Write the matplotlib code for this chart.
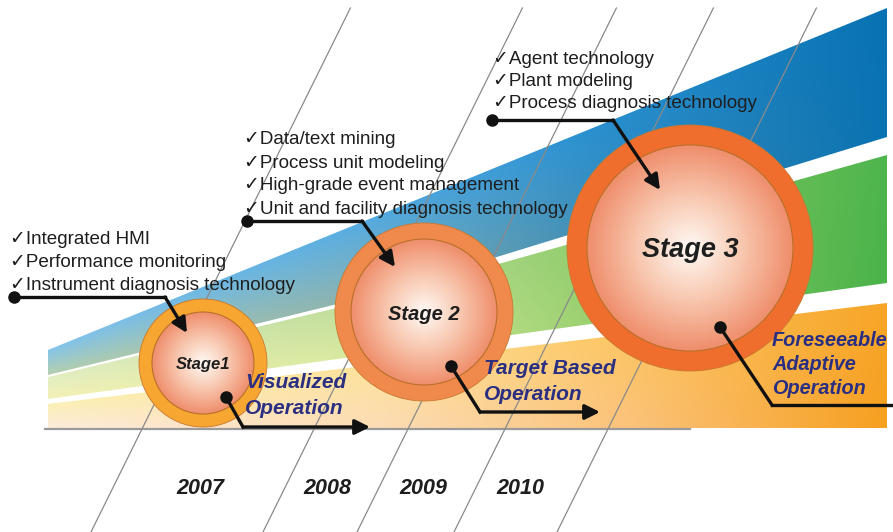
import numpy as np
import matplotlib
matplotlib.use('Agg')
import matplotlib.pyplot as plt
from matplotlib.colors import LinearSegmentedColormap
from matplotlib.patches import Polygon, Circle

plt.rcParams['font.family'] = ['Liberation Sans', 'DejaVu Sans']

# Contenido del gráfico
stages = ['Stage1', 'Stage 2', 'Stage 3']
years = ['2007', '2008', '2009', '2010']
features = [
    ['Integrated HMI', 'Performance monitoring', 'Instrument diagnosis technology'],
    ['Data/text mining', 'Process unit modeling', 'High-grade event management',
     'Unit and facility diagnosis technology'],
    ['Agent technology', 'Plant modeling', 'Process diagnosis technology'],
]
outcomes = [
    ['Visualized', 'Operation'],
    ['Target Based', 'Operation'],
    ['Foreseeable', 'Adaptive', 'Operation'],
]

# Disposición (coordenadas en píxeles de la imagen)
centers = [(203, 363), (424, 312), (690, 248)]
r_outer = [64, 89, 123]
r_inner = [51, 73, 103]
ring_colors = ['#f7a631', '#f08a4c', '#ef6e2e']
stage_fs = [12, 14.5, 19.5]
feat_pos = [(10, 240, 22.5), (244, 140, 23), (493, 59, 22.5)]
top_ptr = [[(14, 297), (165, 297), (187, 333)],
           [(247, 221), (362, 221), (395, 267)],
           [(492, 120), (613, 120), (660, 190)]]
bot_ptr = [[(226, 397), (243, 427), (370, 427)],
           [(451, 366), (480, 412), (600, 412)],
           [(720, 327), (772, 405), (895, 405)]]
out_pos = [(245, 383, 26), (484, 369, 26), (772, 340, 24.5)]
out_fs = [15, 15, 14.3]
year_x = [200, 327, 423, 520]
diag_bottom = [91, 263, 357, 454, 557]

W, H = 893, 532
X0, X1 = 48, 887
fig = plt.figure(figsize=(W / 100, H / 100), dpi=100)
ax = fig.add_axes([0, 0, 1, 1])
ax.axis('off')

gx, gy = np.meshgrid(np.linspace(X0, X1, 700), np.linspace(0, 440, 600))
u = (gx - X0) / (X1 - X0)


def banda(top, bot, top_stops, bot_stops, z):
    ty = np.interp(gx, [p[0] for p in top], [p[1] for p in top])
    by = np.interp(gx, [p[0] for p in bot], [p[1] for p in bot])
    t = np.clip((gy - ty) / (by - ty), 0, 1)[..., None]
    ct = LinearSegmentedColormap.from_list('t', top_stops)(u)
    cb = LinearSegmentedColormap.from_list('b', bot_stops)(u)
    img = ct * (1 - t) + cb * t
    im = ax.imshow(img, extent=(X0, X1, 440, 0), origin='upper', aspect='auto',
                   zorder=z, interpolation='bilinear')
    p = Polygon(list(top) + list(bot)[::-1], closed=True, facecolor='none', edgecolor='none')
    ax.add_patch(p)
    im.set_clip_path(p)


# banda azul
banda([(X0, 350), (X1, 8)], [(X0, 375), (370, 296), (X1, 137)],
      [(0, '#84c4ea'), (0.35, '#5aaee2'), (0.65, '#2a90d0'), (1, '#0872b2')],
      [(0, '#b4cfb0'), (0.35, '#8fb4ae'), (0.65, '#3f8eb8'), (1, '#0a73b2')], 1)
# banda verde
banda([(X0, 377), (370, 300), (X1, 155)], [(X0, 399), (620, 320), (X1, 283)],
      [(0, '#e2eec4'), (0.4, '#bcdc96'), (0.7, '#86c964'), (1, '#4fb54d')],
      [(0, '#f3f1b6'), (0.4, '#d6e99e'), (0.7, '#8fcc66'), (1, '#4ab34a')], 1)
# banda naranja
banda([(X0, 404), (X1, 303)], [(X0, 428), (X1, 428)],
      [(0, '#fbf0b4'), (0.4, '#fde29a'), (0.7, '#fcc460'), (1, '#f7a628')],
      [(0, '#fdebdc'), (0.4, '#fcdcb4'), (0.7, '#fbc27a'), (1, '#f6a020')], 1)

# línea base
ax.plot([45, 690], [429, 429], color='#9a9a9a', lw=1.6, zorder=2)

# líneas diagonales
for xb in diag_bottom:
    ax.plot([xb, xb + 0.495 * 524], [532, 8], color='#8a8a8a', lw=0.9, zorder=2)

# círculos
grad = LinearSegmentedColormap.from_list('g', ['#fffaf6', '#f8c8b0', '#ef8e6c'])
n = 300
yy, xx = np.mgrid[-1:1:n * 1j, -1:1:n * 1j]
rr = np.clip(np.sqrt(xx ** 2 + yy ** 2), 0, 1)
for (cx, cy), ro, ri, rc, name, fs in zip(centers, r_outer, r_inner, ring_colors,
                                          stages, stage_fs):
    ax.add_patch(Circle((cx, cy), ro, facecolor=rc, edgecolor='#c9772e', lw=0.6, zorder=3))
    im = ax.imshow(grad(rr), extent=(cx - ri, cx + ri, cy + ri, cy - ri), zorder=4,
                   interpolation='bilinear')
    c = Circle((cx, cy), ri, facecolor='none', edgecolor='#b8702a', lw=0.8, zorder=4.5)
    ax.add_patch(c)
    im.set_clip_path(c)
    ax.text(cx, cy + 2, name, ha='center', va='center', fontsize=fs,
            fontweight='bold', fontstyle='italic', color='#1e1e1e', zorder=6)

# listas de funciones
for (x0, y0, dy), items in zip(feat_pos, features):
    for k, it in enumerate(items):
        ax.text(x0, y0 + k * dy, '\u2713' + it, ha='left', va='center', fontsize=13.6,
                color='#1e1e1e', zorder=7)

flecha = dict(arrowstyle='-|>,head_length=0.9,head_width=0.45',
              color='#111111', lw=2.4, shrinkA=0, shrinkB=0)

# punteros superiores
for pts in top_ptr:
    xs, ys = zip(*pts)
    ax.plot(xs[:2], ys[:2], color='#111111', lw=2.4, zorder=7)
    ax.plot(xs[0], ys[0], 'o', color='#111111', ms=8, zorder=7)
    ax.annotate('', xy=pts[2], xytext=pts[1], arrowprops=flecha, zorder=7)

# punteros inferiores
for i, pts in enumerate(bot_ptr):
    xs, ys = zip(*pts)
    ax.plot(xs[:2], ys[:2], color='#111111', lw=2.4, zorder=7)
    ax.plot(xs[0], ys[0], 'o', color='#111111', ms=8, zorder=7)
    if i < 2:
        ax.annotate('', xy=pts[2], xytext=pts[1], arrowprops=flecha, zorder=7)
    else:
        ax.plot(xs[1:], ys[1:], color='#111111', lw=2.4, zorder=7)

# etiquetas de resultado
for (x0, y0, dy), lines, fs in zip(out_pos, outcomes, out_fs):
    for k, ln in enumerate(lines):
        ax.text(x0, y0 + k * dy, ln, ha='left', va='center', fontsize=fs,
                fontweight='bold', fontstyle='italic', color='#2a2f82', zorder=8)

# años
for x, yr in zip(year_x, years):
    ax.text(x, 489, yr, ha='center', va='center', fontsize=15.5, fontweight='bold',
            fontstyle='italic', color='#1e1e1e', zorder=7)

ax.set_xlim(0, W)
ax.set_ylim(H, 0)
fig.savefig('out.png', dpi=100, facecolor='white')
